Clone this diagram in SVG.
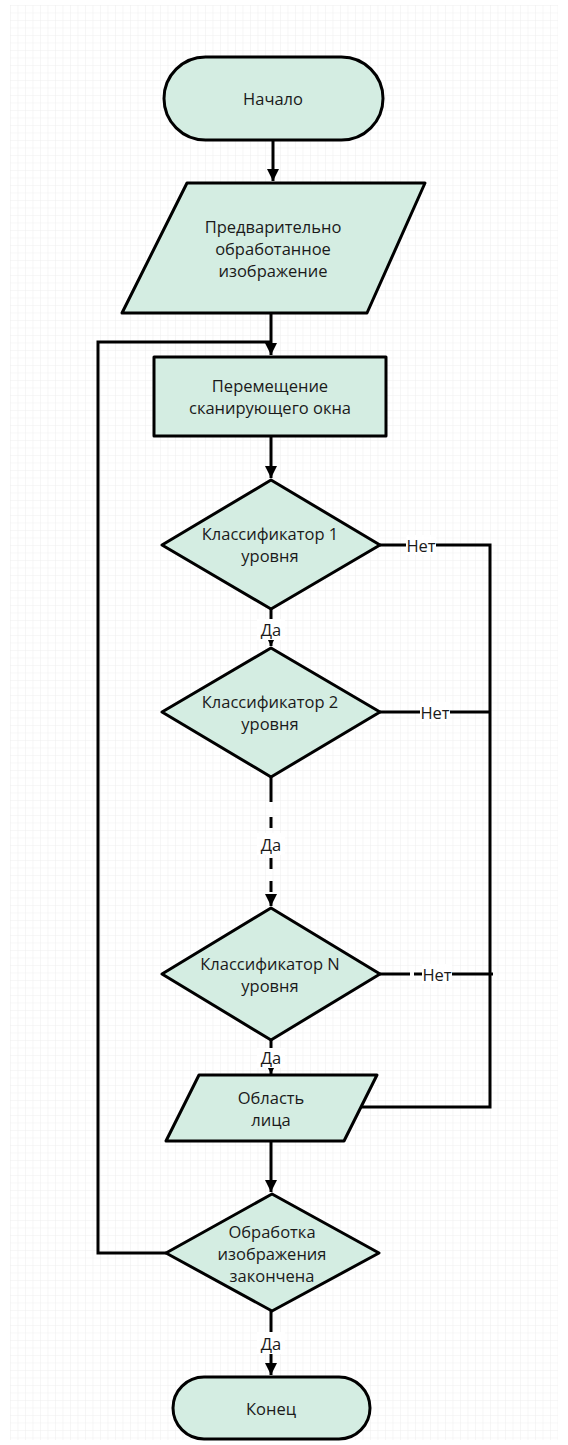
<svg xmlns="http://www.w3.org/2000/svg" width="568" height="1445" viewBox="0 0 568 1445">
<style>
.n{fill:#d4ede2;stroke:#000;stroke-width:3;stroke-linejoin:round}
.t{font-family:"Open Sans","Noto Sans",sans-serif;font-size:16.5px;fill:#1a1a1a;text-anchor:middle;dominant-baseline:central}
.c{fill:none;stroke:#000;stroke-width:3}
.d{stroke-dasharray:11 12}
.lb{fill:#fff}
</style>
<defs>
<pattern id="g" x="10" y="5" width="7.5" height="7.5" patternUnits="userSpaceOnUse">
<path d="M0 0V7.5M0 0H7.5" fill="none" stroke="#efefef" stroke-width="1"/>
</pattern>
<marker id="a" viewBox="0 0 10 10" refX="10" refY="5" markerWidth="4" markerHeight="4.2" orient="auto" markerUnits="strokeWidth">
<path d="M0 0L10 5L0 10z" fill="#000"/>
</marker>
<marker id="s" viewBox="0 0 10 10" refX="10" refY="5" markerWidth="2.2" markerHeight="2.4" orient="auto" markerUnits="strokeWidth">
<path d="M0 0L10 5L0 10z" fill="#000"/>
</marker>
</defs>
<rect width="568" height="1445" fill="#fff"/>
<rect x="10" y="5" width="548" height="1435" fill="url(#g)"/>

<g id="connectors">
<path class="c" d="M273 140V181" marker-end="url(#a)"/>
<path class="c" d="M271 313V355" marker-end="url(#a)"/>
<path class="c" d="M166 1253H98V342H271"/>
<path class="c" d="M271 436V478" marker-end="url(#a)"/>
<path class="c" d="M271 609V619"/>
<path class="c" d="M271 640V646" marker-end="url(#s)"/>
<path class="c" d="M271 777V802"/>
<path class="c d" d="M271 817V830"/>
<path class="c d" d="M271 858V895"/>
<path class="c" d="M271 895V906" marker-end="url(#a)"/>
<path class="c" d="M271 1040V1048"/>
<path class="c" d="M271 1068V1074" marker-end="url(#s)"/>
<path class="c" d="M271 1141V1192" marker-end="url(#a)"/>
<path class="c" d="M271 1311V1375" marker-end="url(#a)"/>
<path class="c" d="M380 545H490V1107H361"/>
<path class="c" d="M380 712H490"/>
<path class="c" d="M380 974H410"/>
<path class="c" d="M414 974H493"/>
<rect class="lb" x="406" y="535" width="30" height="20"/>
<text class="t" x="421" y="545">Нет</text>
<rect class="lb" x="420" y="702" width="30" height="20"/>
<text class="t" x="435" y="712">Нет</text>
<rect class="lb" x="422" y="964" width="30" height="20"/>
<text class="t" x="437" y="974">Нет</text>
<rect class="lb" x="257" y="619" width="28" height="21"/>
<text class="t" x="271" y="629">Да</text>
<rect class="lb" x="257" y="833" width="28" height="22"/>
<text class="t" x="271" y="844">Да</text>
<rect class="lb" x="257" y="1048" width="28" height="20"/>
<text class="t" x="271" y="1057">Да</text>
<rect class="lb" x="257" y="1332" width="28" height="22"/>
<text class="t" x="271" y="1343">Да</text>
</g>

<g id="start">
<rect class="n" x="164" y="57" width="219" height="83" rx="41.5"/>
<text class="t" x="273" y="98">Начало</text>
</g>
<g id="input">
<polygon class="n" points="187,183 425,183 367,313 122,313"/>
<text class="t" x="273" y="226">Предварительно</text>
<text class="t" x="273" y="248">обработанное</text>
<text class="t" x="273" y="270">изображение</text>
</g>
<g id="move">
<rect class="n" x="154" y="357" width="232" height="79"/>
<text class="t" x="270" y="385">Перемещение</text>
<text class="t" x="270" y="407">сканирующего окна</text>
</g>
<g id="cls1">
<polygon class="n" points="271,480 380,545 271,609 162,545"/>
<text class="t" x="270" y="533">Классификатор 1</text>
<text class="t" x="270" y="555">уровня</text>
</g>
<g id="cls2">
<polygon class="n" points="271,648 380,712 271,777 162,712"/>
<text class="t" x="270" y="701">Классификатор 2</text>
<text class="t" x="270" y="723">уровня</text>
</g>
<g id="clsN">
<polygon class="n" points="271,908 380,974 271,1040 162,974"/>
<text class="t" x="270" y="963">Классификатор N</text>
<text class="t" x="270" y="985">уровня</text>
</g>
<g id="face">
<polygon class="n" points="199,1075 377,1075 344,1141 166,1141"/>
<text class="t" x="271" y="1097">Область</text>
<text class="t" x="271" y="1119">лица</text>
</g>
<g id="done">
<polygon class="n" points="272,1194 379,1253 272,1311 166,1253"/>
<text class="t" x="272" y="1231">Обработка</text>
<text class="t" x="272" y="1253">изображения</text>
<text class="t" x="272" y="1275">закончена</text>
</g>
<g id="end">
<rect class="n" x="173" y="1377" width="197" height="62" rx="31"/>
<text class="t" x="271" y="1408">Конец</text>
</g>
</svg>
